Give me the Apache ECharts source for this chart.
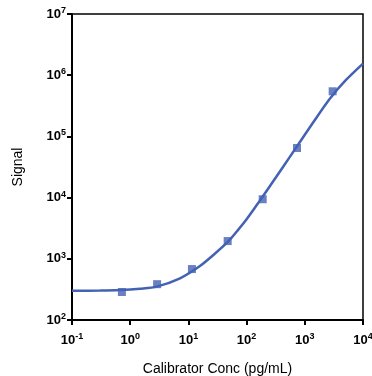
<!DOCTYPE html>
<html>
<head>
<meta charset="utf-8">
<script src="https://cdn.jsdelivr.net/npm/echarts@6/dist/echarts.min.js"></script>
<style>
  html, body { margin: 0; padding: 0; background: #fff; }
  #chart { width: 372px; height: 376px; }
</style>
</head>
<body>
<div id="chart"></div>
<script>
// measured calibrators (pg/mL, signal)
const concValues = [0.72, 2.9, 11.5, 47.3, 189, 735, 3010];
const signalValues = [287, 385, 680, 1950, 9400, 64600, 546000];

// fitted curve
const fitConc = [0.1, 0.303, 0.668, 1.47, 2.85, 7.17, 15.8, 27.5, 47.9, 68.4, 100, 170, 252, 422, 726, 1380, 2710, 5100, 10000];
const fitSignal = [301, 303, 309, 325, 351, 480, 762, 1175, 1900, 2820, 4420, 9000, 15500, 31600, 67900, 167000, 416000, 836000, 1550000];

const blue = "#4462B4";

const chart = echarts.init(document.getElementById("chart"));

const expLabel = (v) => {
  const e = Math.round(Math.log10(v));
  return "{b|10}{s|" + e + "}";
};
const labelRich = {
  b: { fontFamily: "Liberation Sans", fontWeight: "bold", fontSize: 13, color: "#000" },
  s: { fontFamily: "Liberation Sans", fontWeight: "bold", fontSize: 9, color: "#000", padding: [0, 0, 7, 0] },
};

const option = {
  animation: false,
  grid: {
    left: 72,
    right: 9,
    top: 14,
    bottom: 56,
    outerBoundsMode: "none",
    show: true,
    borderColor: "#000",
    borderWidth: 1.5,
  },
  xAxis: {
    type: "log",
    logBase: 10,
    min: 0.1,
    max: 10000,
    interval: 1,
    name: "Calibrator Conc (pg/mL)",
    nameLocation: "middle",
    nameGap: 42,
    nameTextStyle: { fontFamily: "Liberation Sans", fontSize: 14, color: "#000" },
    axisLine: { lineStyle: { color: "#000", width: 2 } },
    axisTick: { length: 5, lineStyle: { color: "#000", width: 2 } },
    minorTick: { show: false },
    splitLine: { show: false },
    axisLabel: { margin: 12, formatter: expLabel, rich: labelRich },
  },
  yAxis: {
    type: "log",
    logBase: 10,
    min: 100,
    max: 10000000,
    interval: 1,
    name: "Signal",
    nameLocation: "middle",
    nameGap: 47,
    nameTextStyle: { fontFamily: "Liberation Sans", fontSize: 14, color: "#000" },
    axisLine: { lineStyle: { color: "#000", width: 2 } },
    axisTick: { length: 5, lineStyle: { color: "#000", width: 2 } },
    minorTick: { show: false },
    splitLine: { show: false },
    axisLabel: { margin: 6, formatter: expLabel, rich: labelRich },
  },
  series: [
    {
      type: "line",
      data: fitConc.map((c, i) => [c, fitSignal[i]]),
      smooth: 0.3,
      showSymbol: false,
      lineStyle: { color: blue, width: 2.5 },
      z: 2,
    },
    {
      type: "scatter",
      data: concValues.map((c, i) => [c, signalValues[i]]),
      symbol: "rect",
      symbolSize: 8,
      itemStyle: { color: blue },
      z: 3,
    },
  ],
};

chart.setOption(option);
</script>
</body>
</html>
